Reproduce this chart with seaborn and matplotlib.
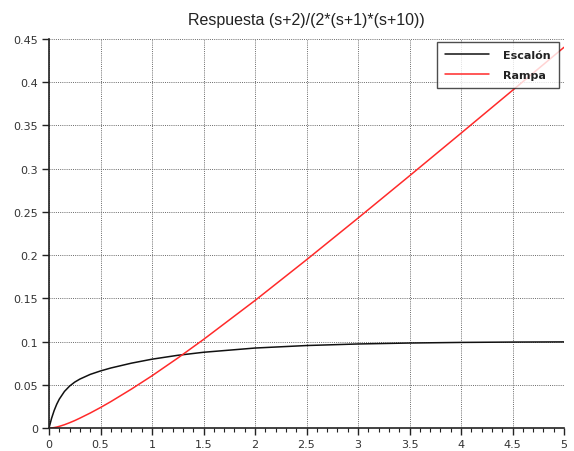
import numpy as np
import pandas as pd
import matplotlib
matplotlib.use("Agg")
import matplotlib.pyplot as plt
import seaborn as sns

# Time samples (s) and the two responses of (s+2)/(2*(s+1)*(s+10))
t = [0, 0.025, 0.05, 0.075, 0.1, 0.15, 0.2, 0.25, 0.3, 0.4, 0.5, 0.6, 0.8,
     1.0, 1.25, 1.5, 2.0, 2.5, 3.0, 3.5, 4.0, 4.5, 5.0]
escalon = [0, 0.0112, 0.0202, 0.0275, 0.0334, 0.0423, 0.0485, 0.0531, 0.0566,
           0.0620, 0.0660, 0.0694, 0.0750, 0.0796, 0.0841, 0.0876, 0.0925,
           0.0954, 0.0972, 0.0983, 0.0990, 0.0994, 0.0996]
rampa = [0, 0.0001, 0.0005, 0.0011, 0.0019, 0.0038, 0.0061, 0.0086, 0.0114,
         0.0173, 0.0237, 0.0305, 0.0450, 0.0604, 0.0809, 0.1024, 0.1475,
         0.1946, 0.2428, 0.2917, 0.3410, 0.3906, 0.4404]
series_names = ["Escalón", "Rampa"]
series_colors = ["#111111", "#ff2a2a"]
title = "Respuesta (s+2)/(2*(s+1)*(s+10))"

df = pd.DataFrame({
    "t": t * 2,
    "y": escalon + rampa,
    "serie": [series_names[0]] * len(t) + [series_names[1]] * len(t),
})

sns.set_style("white")
plt.rcParams["font.family"] = ["DejaVu Sans"]

fig = plt.figure(figsize=(5.74, 4.52), dpi=100)
ax = fig.add_axes([49 / 574, 1 - 429 / 452, (564 - 49) / 574, (429 - 40) / 452])

sns.lineplot(data=df, x="t", y="y", hue="serie", hue_order=series_names,
             palette=series_colors, linewidth=1.1, ax=ax, estimator=None,
             sort=True)

ax.set_xlim(0, 5)
ax.set_ylim(0, 0.45)
ax.set_xticks(np.arange(0, 5.01, 0.5))
ax.set_xticklabels(["0", "0.5", "1", "1.5", "2", "2.5", "3", "3.5", "4", "4.5", "5"])
ax.set_xticks(np.arange(0, 5.01, 0.1), minor=True)
ax.set_yticks(np.arange(0, 0.451, 0.05))
ax.set_yticklabels(["0", "0.05", "0.1", "0.15", "0.2", "0.25", "0.3", "0.35", "0.4", "0.45"])
ax.set_xlabel("")
ax.set_ylabel("")

ax.grid(True, which="major", color="#6a6a6a", linestyle=(0, (1, 1.2)), linewidth=0.7)
ax.set_axisbelow(True)
for side in ["top", "right"]:
    ax.spines[side].set_visible(False)
for side in ["left", "bottom"]:
    ax.spines[side].set_color("#222222")
    ax.spines[side].set_linewidth(1.2)

ax.tick_params(axis="both", which="major", direction="out", length=5, width=1,
               color="#222222", labelsize=8, labelcolor="#333333",
               bottom=True, left=True)
ax.tick_params(axis="x", which="major", pad=3)
ax.tick_params(axis="y", which="major", pad=3)
ax.tick_params(axis="x", which="minor", direction="out", length=3, width=0.8,
               color="#222222", bottom=True)

ax.set_title(title, fontsize=11.5, color="#222222", pad=11,
             fontfamily="Liberation Sans")

leg = ax.legend(loc="upper right", frameon=True, fancybox=False, fontsize=8,
                handlelength=3.9, borderpad=0.75, labelspacing=0.85,
                handletextpad=1.3, borderaxespad=0,
                bbox_to_anchor=(1 - 5 / 515, 1 - 3 / 389))
leg.get_frame().set_edgecolor("#222222")
leg.get_frame().set_linewidth(1.0)
for txt in leg.get_texts():
    txt.set_fontweight("bold")
    txt.set_color("#222222")

fig.savefig("out.png", dpi=100)
